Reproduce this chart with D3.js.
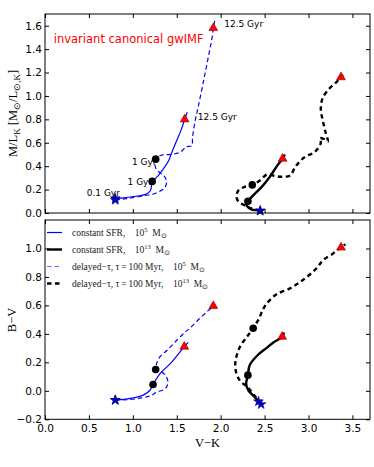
<!DOCTYPE html>
<html><head><meta charset="utf-8">
<script src="https://cdn.jsdelivr.net/npm/d3@7"></script>
<style>body{margin:0;background:#fff}</style>
</head><body><svg id="c" width="374" height="467"></svg>
<script>
// ---------------- DATA ----------------
const xTicks = [0.0, 0.5, 1.0, 1.5, 2.0, 2.5, 3.0, 3.5];
const mlTicks = [0.0, 0.2, 0.4, 0.6, 0.8, 1.0, 1.2, 1.4, 1.6];
const bvTicks = [-0.2, 0.0, 0.2, 0.4, 0.6, 0.8, 1.0];

// Top panel: M/L_K vs V-K
const topC5VK  = [0.80, 0.90, 1.00, 1.10, 1.16, 1.20, 1.22, 1.25, 1.29, 1.33, 1.37, 1.41, 1.44, 1.50, 1.55, 1.59, 1.62];
const topC5ML  = [0.125, 0.13, 0.14, 0.15, 0.165, 0.19, 0.26, 0.29, 0.32, 0.36, 0.40, 0.45, 0.51, 0.62, 0.71, 0.80, 0.86];
const topD5VK  = [0.80, 0.90, 1.00, 1.14, 1.22, 1.29, 1.34, 1.37, 1.385, 1.37, 1.35, 1.30, 1.27, 1.25, 1.26, 1.33, 1.44, 1.54, 1.61, 1.67, 1.68, 1.71, 1.745, 1.80, 1.86, 1.905, 1.916, 1.935];
const topD5ML  = [0.11, 0.12, 0.13, 0.15, 0.16, 0.18, 0.20, 0.225, 0.27, 0.30, 0.32, 0.35, 0.37, 0.42, 0.46, 0.495, 0.50, 0.52, 0.566, 0.575, 0.65, 0.79, 0.91, 1.11, 1.335, 1.51, 1.58, 1.65];
const topC13VK = [2.45, 2.40, 2.35, 2.30, 2.29, 2.31, 2.37, 2.47, 2.56, 2.64, 2.705, 2.73];
const topC13ML = [0.02, 0.025, 0.03, 0.06, 0.08, 0.10, 0.15, 0.225, 0.31, 0.40, 0.464, 0.50];
const topD13VK = [2.45, 2.35, 2.26, 2.20, 2.18, 2.20, 2.26, 2.36, 2.45, 2.53, 2.62, 2.70, 2.79, 2.85, 2.96, 3.07, 3.14, 3.13, 3.18, 3.22, 3.19, 3.16, 3.14, 3.16, 3.24, 3.32, 3.37, 3.39];
const topD13ML = [0.02, 0.04, 0.07, 0.10, 0.14, 0.19, 0.22, 0.24, 0.28, 0.33, 0.315, 0.31, 0.32, 0.395, 0.48, 0.52, 0.60, 0.64, 0.63, 0.61, 0.70, 0.80, 0.88, 0.98, 1.065, 1.12, 1.16, 1.18];

// Bottom panel: B-V vs V-K
const botC5VK  = [0.80, 0.90, 1.00, 1.12, 1.195, 1.23, 1.31, 1.44, 1.586, 1.63];
const botC5BV  = [-0.065, -0.06, -0.05, -0.03, 0.004, 0.044, 0.12, 0.20, 0.31, 0.34];
const botD5VK  = [0.80, 0.95, 1.10, 1.20, 1.27, 1.37, 1.40, 1.37, 1.31, 1.26, 1.27, 1.31, 1.39, 1.50, 1.59, 1.65, 1.765, 1.86, 1.916, 1.935];
const botD5BV  = [-0.065, -0.062, -0.05, -0.035, -0.01, 0.015, 0.06, 0.11, 0.14, 0.15, 0.19, 0.24, 0.285, 0.355, 0.41, 0.44, 0.51, 0.565, 0.596, 0.61];
const botC13VK = [2.43, 2.38, 2.315, 2.29, 2.31, 2.33, 2.42, 2.52, 2.60, 2.70, 2.72];
const botC13BV = [-0.075, -0.04, 0.003, 0.05, 0.11, 0.18, 0.25, 0.30, 0.34, 0.38, 0.41];
const botD13VK = [2.46, 2.38, 2.30, 2.22, 2.17, 2.17, 2.22, 2.30, 2.37, 2.43, 2.48, 2.52, 2.58, 2.64, 2.79, 2.94, 3.09, 3.17, 3.28, 3.37, 3.42];
const botD13BV = [-0.095, -0.03, 0.03, 0.07, 0.145, 0.215, 0.31, 0.38, 0.44, 0.50, 0.57, 0.61, 0.65, 0.68, 0.72, 0.78, 0.86, 0.92, 0.965, 1.007, 1.03];

// Markers (0.1 Gyr stars, 1 Gyr dots, 12.5 Gyr triangles)
const topStarVK = [0.80, 0.80, 2.45, 2.45];
const topStarML = [0.125, 0.11, 0.02, 0.018];
const topDotVK  = [1.22, 1.26, 2.31, 2.36];
const topDotML  = [0.27, 0.46, 0.10, 0.24];
const topTriVK  = [1.59, 1.916, 2.705, 3.37];
const topTriML  = [0.80, 1.58, 0.464, 1.16];
const botStarVK = [0.80, 0.80, 2.43, 2.46];
const botStarBV = [-0.065, -0.065, -0.075, -0.095];
const botDotVK  = [1.23, 1.26, 2.31, 2.37];
const botDotBV  = [0.044, 0.15, 0.11, 0.44];
const botTriVK  = [1.586, 1.916, 2.70, 3.37];
const botTriBV  = [0.31, 0.596, 0.38, 1.007];

// Age annotations (top panel)
const annText = ["12.5 Gyr", "12.5 Gyr", "1 Gyr", "1 Gyr", "0.1 Gyr"];
const annVK   = [2.04, 1.74, 0.99, 0.94, 0.475];
const annML   = [1.62, 0.82, 0.44, 0.265, 0.17];

const legendLabels = [
  ["constant SFR,", "5"],
  ["constant SFR,", "13"],
  ["delayed\u2212\u03c4, \u03c4\u2009=\u2009100 Myr,", "5"],
  ["delayed\u2212\u03c4, \u03c4\u2009=\u2009100 Myr,", "13"]
];

// ---------------- DRAW ----------------
const svg = d3.select("#c");
const sans = "DejaVu Sans", serif = "Liberation Serif";
const L = 45, R = 370;
const x = d3.scaleLinear().domain([0, 3.7]).range([L, R]);
const yTop = d3.scaleLinear().domain([0, 1.7]).range([213, 14]);
const yBot = d3.scaleLinear().domain([-0.2, 1.2]).range([419.3, 220]);

const BLUE = "#0000ff";
const styles = {
  c5:  {stroke: BLUE, width: 1.2, dash: null},
  d5:  {stroke: BLUE, width: 1.2, dash: "4.5,3"},
  c13: {stroke: "#000", width: 2.4, dash: null},
  d13: {stroke: "#000", width: 2.4, dash: "4.5,3.5"}
};

function panel(yS, yTicks, showX, series, stars, dots, tris) {
  const g = svg.append("g");
  const fmt = d3.format(".1f");
  const top = yS.range()[1], bot = yS.range()[0];
  g.append("g").attr("transform", `translate(${L},0)`)
    .call(d3.axisLeft(yS).tickValues(yTicks).tickSizeInner(-4).tickSizeOuter(0).tickPadding(3).tickFormat(fmt))
    .call(a => { a.select(".domain").remove(); a.selectAll("text").attr("font-family", sans).attr("font-size", 10.5).attr("fill", "#000"); a.selectAll("line").attr("stroke", "#000"); });
  g.append("g").attr("transform", `translate(${R},0)`)
    .call(d3.axisRight(yS).tickValues(yTicks).tickSizeInner(-4).tickSizeOuter(0).tickFormat(""))
    .call(a => { a.select(".domain").remove(); a.selectAll("line").attr("stroke", "#000"); });
  g.append("g").attr("transform", `translate(0,${bot})`)
    .call(d3.axisBottom(x).tickValues(xTicks).tickSizeInner(-4).tickSizeOuter(0).tickPadding(5).tickFormat(showX ? fmt : ""))
    .call(a => { a.select(".domain").remove(); a.selectAll("text").attr("font-family", sans).attr("font-size", 10.5).attr("fill", "#000"); a.selectAll("line").attr("stroke", "#000"); });
  g.append("g").attr("transform", `translate(0,${top})`)
    .call(d3.axisTop(x).tickValues(xTicks).tickSizeInner(-4).tickSizeOuter(0).tickFormat(""))
    .call(a => { a.select(".domain").remove(); a.selectAll("line").attr("stroke", "#000"); });

  series.forEach(s => {
    const pts = s.vk.map((v, i) => [x(v), yS(s.y[i])]);
    const st = styles[s.key];
    g.append("path").attr("d", d3.line().curve(d3.curveCatmullRom.alpha(0.5))(pts))
      .attr("fill", "none").attr("stroke", st.stroke).attr("stroke-width", st.width)
      .attr("stroke-dasharray", st.dash);
  });
  dots.vk.forEach((v, i) => g.append("circle").attr("cx", x(v)).attr("cy", yS(dots.y[i])).attr("r", 3.8).attr("fill", "#000"));
  tris.vk.forEach((v, i) => g.append("path").attr("d", d3.symbol(d3.symbolTriangle, 34)())
    .attr("transform", `translate(${x(v)},${yS(tris.y[i])})`).attr("fill", "#ff0000").attr("stroke", "#800").attr("stroke-width", 0.6));
  stars.vk.forEach((v, i) => g.append("path").attr("d", d3.symbol(d3.symbolStar, 30)())
    .attr("transform", `translate(${x(v)},${yS(stars.y[i])})`).attr("fill", "#0000cc").attr("stroke", "#000080").attr("stroke-width", 0.6));

  g.append("rect").attr("x", L).attr("y", top).attr("width", R - L).attr("height", bot - top)
    .attr("fill", "none").attr("stroke", "#000").attr("stroke-width", 1);
  return g;
}

const gTop = panel(yTop, mlTicks, false, [
  {key: "c5", vk: topC5VK, y: topC5ML},
  {key: "d5", vk: topD5VK, y: topD5ML},
  {key: "c13", vk: topC13VK, y: topC13ML},
  {key: "d13", vk: topD13VK, y: topD13ML}
], {vk: topStarVK, y: topStarML}, {vk: topDotVK, y: topDotML}, {vk: topTriVK, y: topTriML});

const gBot = panel(yBot, bvTicks, true, [
  {key: "c5", vk: botC5VK, y: botC5BV},
  {key: "d5", vk: botD5VK, y: botD5BV},
  {key: "c13", vk: botC13VK, y: botC13BV},
  {key: "d13", vk: botD13VK, y: botD13BV}
], {vk: botStarVK, y: botStarBV}, {vk: botDotVK, y: botDotBV}, {vk: botTriVK, y: botTriBV});

annText.forEach((t, i) => gTop.append("text").attr("x", x(annVK[i])).attr("y", yTop(annML[i])).attr("dy", "0.35em")
  .attr("font-family", sans).attr("font-size", 9).attr("fill", "#000").text(t));
gTop.append("text").attr("x", x(0.1)).attr("y", yTop(1.49)).attr("dy", "0.35em")
  .attr("font-family", sans).attr("font-size", 11.5).attr("fill", "#ff0000").text("invariant canonical gwIMF");

const yl = svg.append("text").attr("transform", `translate(17,${(14 + 213) / 2}) rotate(-90)`)
  .attr("text-anchor", "middle").attr("font-family", serif).attr("font-size", 12.5).attr("fill", "#000");
yl.append("tspan").text("M/L");
yl.append("tspan").attr("dy", 3).attr("font-size", 9).text("K");
yl.append("tspan").attr("dy", -3).text(" [M");
yl.append("tspan").attr("dy", 3).attr("font-size", 9).text("\u2299");
yl.append("tspan").attr("dy", -3).text("/L");
yl.append("tspan").attr("dy", 3).attr("font-size", 9).text("\u2299,K");
yl.append("tspan").attr("dy", -3).text("]");

svg.append("text").attr("transform", `translate(16,320) rotate(-90)`).attr("text-anchor", "middle")
  .attr("font-family", serif).attr("font-size", 12.5).attr("fill", "#000").text("B\u2212V");
svg.append("text").attr("x", (L + R) / 2).attr("y", 447).attr("text-anchor", "middle")
  .attr("font-family", serif).attr("font-size", 12.5).attr("fill", "#000").text("V\u2212K");

const legKeys = ["c5", "c13", "d5", "d13"];
legendLabels.forEach((lab, i) => {
  const yy = 232.5 + i * 17;
  const st = styles[legKeys[i]];
  gBot.append("line").attr("x1", 47).attr("x2", 62).attr("y1", yy).attr("y2", yy)
    .attr("stroke", st.stroke).attr("stroke-width", st.width).attr("stroke-dasharray", st.dash)
    .attr("stroke-opacity", legKeys[i] === "d5" ? 0.6 : 1);
  const t = gBot.append("text").attr("x", 72).attr("y", yy + 3).attr("font-family", serif).attr("font-size", 9.5).attr("fill", "#222");
  t.append("tspan").text(lab[0] + "\u2003");
  t.append("tspan").text("10");
  t.append("tspan").attr("dy", -4).attr("font-size", 6.5).text(lab[1]);
  t.append("tspan").attr("dy", 4).text("\u2002M");
  t.append("tspan").attr("dy", 2).attr("font-size", 6.5).text("\u2299");
});
</script></body></html>
